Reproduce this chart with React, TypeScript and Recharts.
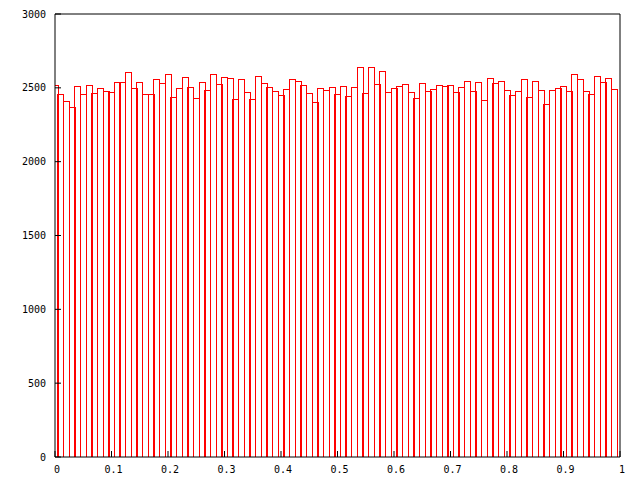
import React from 'react';
import { BarChart, Bar, XAxis, YAxis } from 'recharts';

const counts = [
  2519, 2458, 2409, 2368, 2510, 2458, 2517, 2463, 2497, 2476,
  2469, 2537, 2537, 2605, 2497, 2537, 2458, 2458, 2558, 2530,
  2587, 2436, 2497, 2571, 2503, 2429, 2537, 2483, 2587, 2524,
  2571, 2564, 2422, 2558, 2469, 2422, 2580, 2530, 2503, 2476,
  2449, 2490, 2558, 2544, 2517, 2463, 2402, 2497, 2483, 2503,
  2456, 2510, 2442, 2503, 2639, 2463, 2639, 2524, 2612, 2469,
  2497, 2510, 2524, 2469, 2429, 2530, 2476, 2490, 2517, 2510,
  2517, 2469, 2503, 2544, 2476, 2537, 2415, 2564, 2530, 2544,
  2483, 2449, 2476, 2558, 2436, 2544, 2483, 2384, 2483, 2497,
  2510, 2476, 2592, 2558, 2476, 2456, 2578, 2537, 2564, 2490,
];
const binCenters = counts.map((_, i) => i / 100);
const xTicks = [0, 0.1, 0.2, 0.3, 0.4, 0.5, 0.6, 0.7, 0.8, 0.9, 1];
const yTicks = [0, 500, 1000, 1500, 2000, 2500, 3000];

const data = binCenters.map((x, i) => ({ x, count: counts[i] }));

const font = { fontFamily: 'DejaVu Sans Mono', fontSize: 10, fill: '#000' };
const black = { stroke: '#000', strokeWidth: 1 };

export default function App() {
  return (
    <div style={{ position: 'absolute', left: 0, top: 0, width: 640, height: 480, background: '#fff' }}>
      <BarChart
        width={640}
        height={480}
        data={data}
        margin={{ top: 13, right: 19, bottom: 3, left: 0 }}
        barCategoryGap={0}
        barGap={0}
      >
        <XAxis
          xAxisId="b"
          dataKey="x"
          type="number"
          domain={[0, 1]}
          ticks={xTicks}
          allowDataOverflow
          interval={0}
          height={20}
          tickSize={-6}
          tickMargin={15}
          axisLine={black}
          tickLine={black}
          tick={{ ...font, dx: 2 }}
        />
        <XAxis
          xAxisId="t"
          orientation="top"
          dataKey="x"
          type="number"
          domain={[0, 1]}
          ticks={xTicks}
          allowDataOverflow
          interval={0}
          height={1}
          tickSize={-6}
          axisLine={black}
          tickLine={black}
          tick={false}
        />
        <YAxis
          yAxisId="l"
          type="number"
          domain={[0, 3000]}
          ticks={yTicks}
          allowDataOverflow
          interval={0}
          width={55}
          tickSize={-6}
          tickMargin={15}
          axisLine={black}
          tickLine={black}
          tick={font}
        />
        <YAxis
          yAxisId="r"
          orientation="right"
          type="number"
          domain={[0, 3000]}
          ticks={yTicks}
          allowDataOverflow
          interval={0}
          width={1}
          tickSize={-6}
          axisLine={black}
          tickLine={black}
          tick={false}
        />
        <Bar
          xAxisId="b"
          yAxisId="l"
          dataKey="count"
          fill="none"
          stroke="#ff0000"
          strokeWidth={1}
          shapeRendering="crispEdges"
          isAnimationActive={false}
        />
      </BarChart>
    </div>
  );
}
